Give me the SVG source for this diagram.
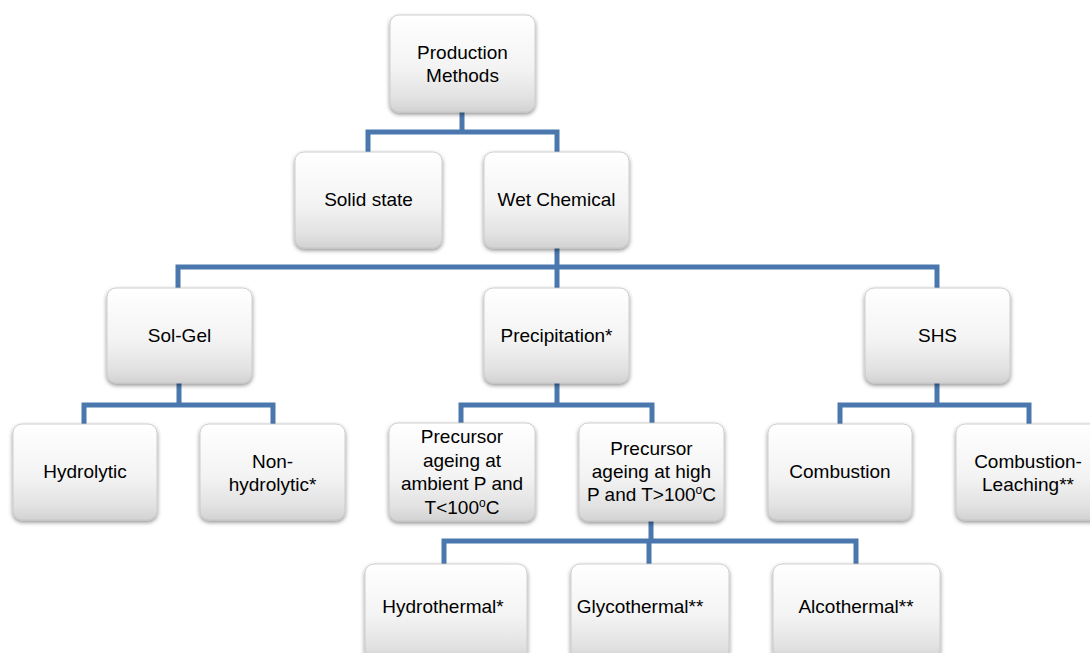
<svg xmlns="http://www.w3.org/2000/svg" width="1090" height="653" viewBox="0 0 1090 653">
<style>
.box{fill:url(#g);stroke:#c4c4c4;stroke-width:0.8;filter:url(#sh)}
.t{font-family:"Liberation Sans",Arial,sans-serif;font-size:19px;fill:#000;text-anchor:middle}
.c{fill:none;stroke:#4a78ae;stroke-width:5;stroke-linejoin:miter;stroke-linecap:butt}
</style>
<defs>
<linearGradient id="g" x1="0" y1="0" x2="0" y2="1">
<stop offset="0" stop-color="#ffffff"/>
<stop offset="0.55" stop-color="#f3f3f3"/>
<stop offset="0.85" stop-color="#e2e2e2"/>
<stop offset="1" stop-color="#d2d2d2"/>
</linearGradient>
<filter id="sh" x="-10%" y="-10%" width="120%" height="125%">
<feDropShadow dx="0" dy="2" stdDeviation="2" flood-color="#000" flood-opacity="0.45"/>
</filter>
</defs>
<rect width="1090" height="653" fill="#fff"/>
<g id="connectors">
<path class="c" d="M462,112 V132 M368,152 V132 H557 V152"/>
<path class="c" d="M557,248 V267 M178,288 V267 H937 V288 M557,267 V288"/>
<path class="c" d="M179,383 V405 M84,424 V405 H273 V424"/>
<path class="c" d="M557,383 V405 M461,423 V405 H652 V423"/>
<path class="c" d="M937,383 V405 M840,424 V405 H1029 V424"/>
<path class="c" d="M651,521 V541 M444,564 V541 H856 V564 M649,541 V564"/>
</g>
<g id="production-methods"><rect class="box" x="390" y="15" width="145" height="97" rx="9"/>
<text class="t" x="462.5" y="59">Production</text><text class="t" x="462.5" y="82">Methods</text></g>
<g id="solid-state"><rect class="box" x="295" y="152" width="147" height="96" rx="9"/>
<text class="t" x="368.5" y="206">Solid state</text></g>
<g id="wet-chemical"><rect class="box" x="484" y="152" width="145" height="96" rx="9"/>
<text class="t" x="556.5" y="206">Wet Chemical</text></g>
<g id="sol-gel"><rect class="box" x="107" y="288" width="145" height="95" rx="9"/>
<text class="t" x="179.5" y="342">Sol-Gel</text></g>
<g id="precipitation"><rect class="box" x="484" y="288" width="145" height="95" rx="9"/>
<text class="t" x="556.5" y="342">Precipitation*</text></g>
<g id="shs"><rect class="box" x="865" y="288" width="145" height="95" rx="9"/>
<text class="t" x="937.5" y="342">SHS</text></g>
<g id="hydrolytic"><rect class="box" x="13" y="424" width="144" height="96" rx="9"/>
<text class="t" x="85" y="478">Hydrolytic</text></g>
<g id="non-hydrolytic"><rect class="box" x="200" y="424" width="145" height="96" rx="9"/>
<text class="t" x="272.5" y="468">Non-</text><text class="t" x="272.5" y="491">hydrolytic*</text></g>
<g id="precursor-ambient"><rect class="box" x="389" y="423" width="146" height="98" rx="9"/>
<text class="t" x="462" y="443">Precursor</text><text class="t" x="462" y="467">ageing at</text><text class="t" x="462" y="490">ambient P and</text>
<text class="t" x="462" y="514">T&lt;100<tspan font-size="12" dy="-7">o</tspan><tspan dy="7">C</tspan></text></g>
<g id="precursor-high"><rect class="box" x="579" y="423" width="145" height="98" rx="9"/>
<text class="t" x="651.5" y="455">Precursor</text><text class="t" x="651.5" y="478">ageing at high</text>
<text class="t" x="651.5" y="501">P and T&gt;100<tspan font-size="12" dy="-7">o</tspan><tspan dy="7">C</tspan></text></g>
<g id="combustion"><rect class="box" x="768" y="424" width="144" height="96" rx="9"/>
<text class="t" x="840" y="478">Combustion</text></g>
<g id="combustion-leaching"><rect class="box" x="956" y="424" width="145" height="96" rx="9"/>
<text class="t" x="1028" y="468">Combustion-</text><text class="t" x="1028" y="491">Leaching**</text></g>
<g id="hydrothermal"><rect class="box" x="365" y="564" width="162" height="96" rx="9"/>
<text class="t" x="443" y="613">Hydrothermal*</text></g>
<g id="glycothermal"><rect class="box" x="571" y="564" width="158" height="96" rx="9"/>
<text class="t" x="640" y="613">Glycothermal**</text></g>
<g id="alcothermal"><rect class="box" x="773" y="564" width="167" height="96" rx="9"/>
<text class="t" x="856" y="613">Alcothermal**</text></g>
</svg>
